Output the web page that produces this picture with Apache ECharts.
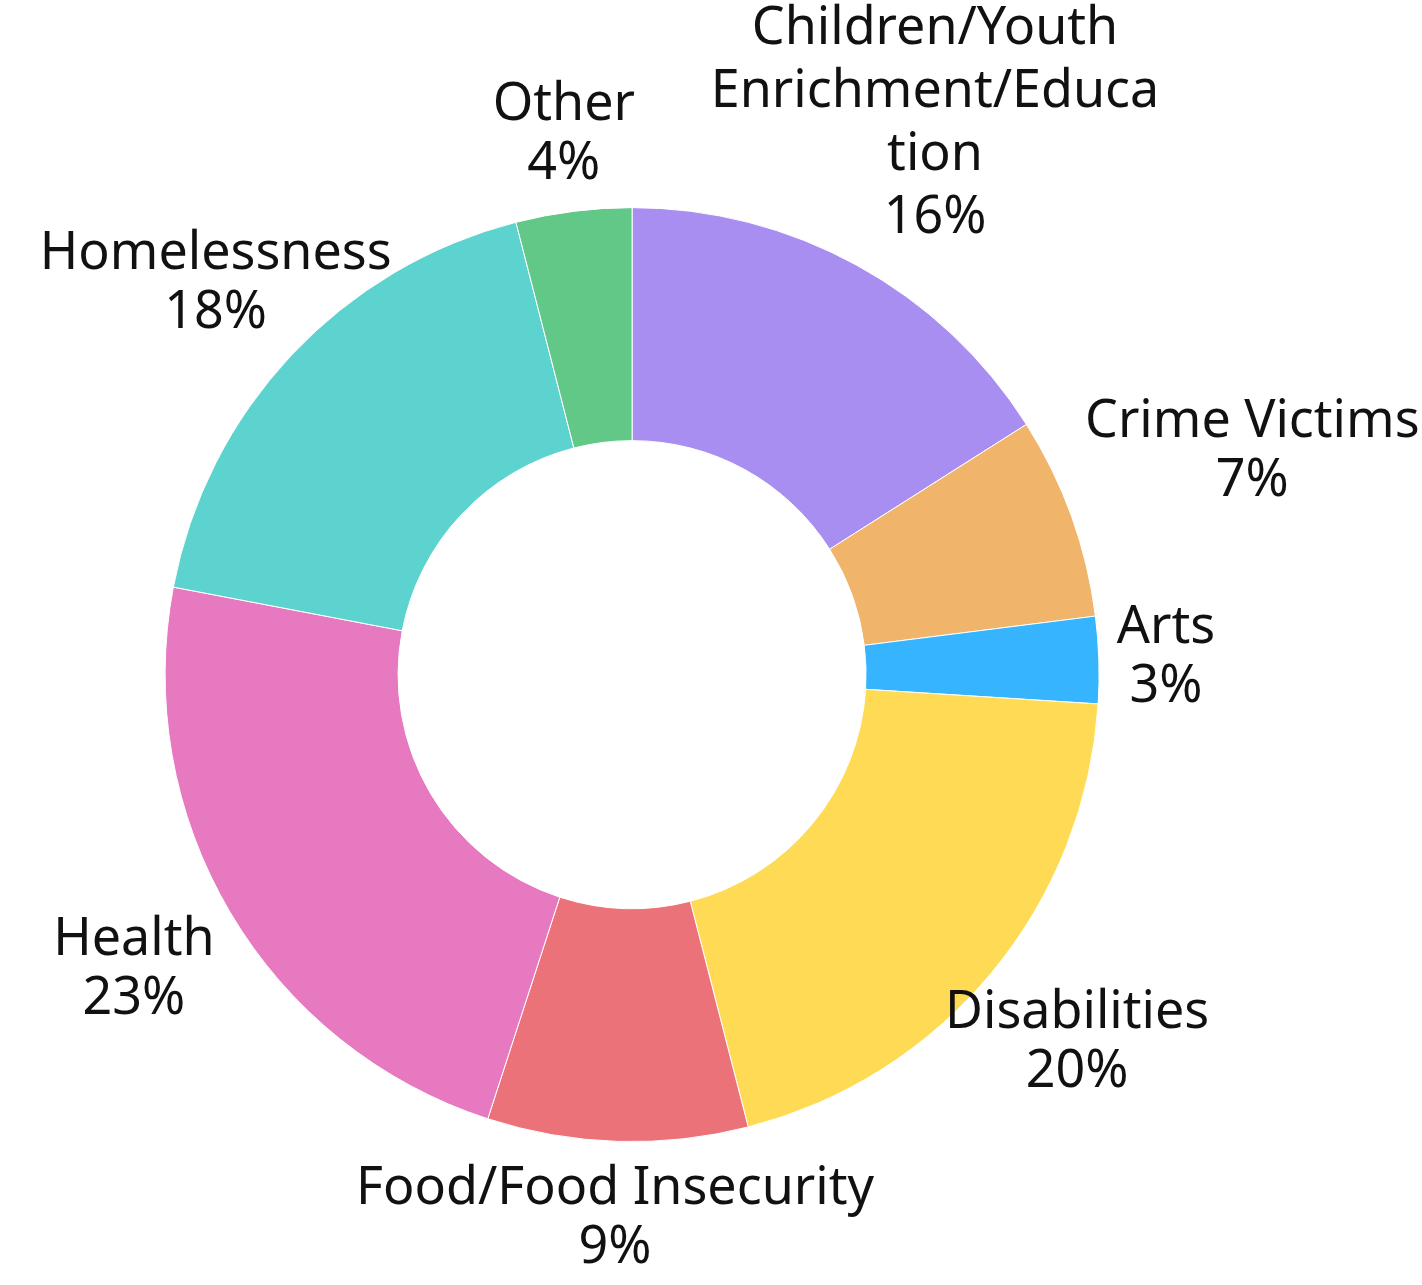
<!DOCTYPE html>
<html>
<head>
<meta charset="utf-8">
<style>
  html, body { margin: 0; padding: 0; background: #ffffff; }
  #chart { width: 1422px; height: 1285px; }
</style>
<script src="https://cdn.jsdelivr.net/npm/echarts@6/dist/echarts.min.js"></script>
</head>
<body>
<div id="chart"></div>
<script>
// Data
const categories = [
  'Children/Youth\nEnrichment/Educa\ntion',
  'Crime Victims',
  'Arts',
  'Disabilities',
  'Food/Food Insecurity',
  'Health',
  'Homelessness',
  'Other'
];
const values = [16, 7, 3, 20, 9, 23, 18, 4];
const colors = ['#a98ef2', '#f0b46a', '#36b4fd', '#ffdb55', '#eb7278', '#e779c1', '#5dd3d0', '#62c887'];

const chart = echarts.init(document.getElementById('chart'));
const total = values.reduce((a, b) => a + b, 0);
const GAP = 18;

const option = {
  animation: false,
  series: [{
    type: 'pie',
    center: ['44.45%', '52.5%'],
    radius: [234, 467],
    startAngle: 90,
    clockwise: true,
    avoidLabelOverlap: false,
    itemStyle: { borderColor: '#ffffff', borderWidth: 1 },
    label: {
      show: true,
      position: 'outside',
      formatter: p => p.name + '\n' + Math.round(p.value / total * 100) + '%',
      fontFamily: 'Noto Sans',
      fontSize: 52,
      lineHeight: 59,
      color: '#111111',
      align: 'center'
    },
    labelLine: { show: false },
    labelLayout: function (params) {
      const data = chart.getModel().getSeriesByIndex(0).getData();
      const lay = data.getItemLayout(params.dataIndex);
      const mid = (lay.startAngle + lay.endAngle) / 2;
      const dx = Math.cos(mid), dy = Math.sin(mid);
      const w = params.labelRect.width, h = params.labelRect.height;
      const tx = Math.abs(dx) > 1e-6 ? (w / 2) / Math.abs(dx) : Infinity;
      const ty = Math.abs(dy) > 1e-6 ? (h / 2) / Math.abs(dy) : Infinity;
      const t = Math.min(tx, ty);
      const d = lay.r + GAP + t;
      return {
        x: lay.cx + d * dx,
        y: lay.cy + d * dy,
        align: 'center',
        verticalAlign: 'middle'
      };
    },
    data: categories.map((c, i) => ({
      name: c,
      value: values[i],
      itemStyle: { color: colors[i] },
      label: i === 0 ? { lineHeight: 63 } : undefined
    }))
  }]
};
chart.setOption(option);
</script>
</body>
</html>
